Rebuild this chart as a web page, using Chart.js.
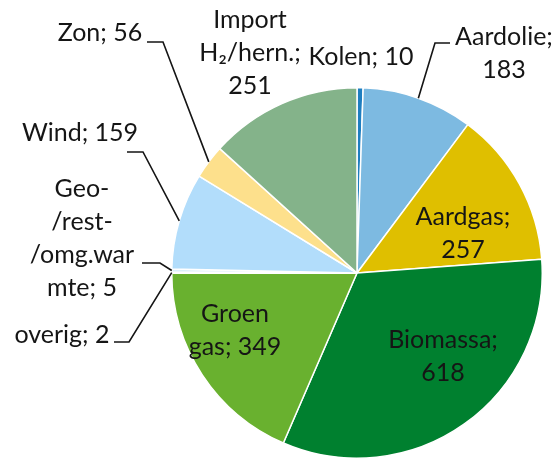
<!DOCTYPE html>
<html lang="nl">
<head>
  <meta charset="UTF-8" />
  <title>Energiemix</title>
  <script src="https://cdn.jsdelivr.net/npm/chart.js"></script>
  <style>
    body { margin: 0; background: #ffffff; }
    #wrap { width: 556px; height: 463px; }
  </style>
</head>
<body>
  <div id="wrap"><canvas id="pie" width="556" height="463"></canvas></div>
  <script>
    // data, clockwise from 12 o'clock
    const categories = ['Kolen', 'Aardolie', 'Aardgas', 'Biomassa', 'Groen gas', 'overig', 'Geo/rest/omg.warmte', 'Wind', 'Zon', 'Import H2/hern.'];
    const values = [10, 183, 257, 618, 349, 2, 5, 159, 56, 251];
    const colors = ['#1E7EC0', '#7DBAE1', '#DFBF00', '#00802F', '#69B12F', '#F0F0F0', '#DCEFFB', '#B2DDFB', '#FDE08C', '#84B38A'];

    // label text as shown on the chart (line breaks as in the original)
    const labelLines = [
      ['Kolen; 10'],
      ['Aardolie;', '183'],
      ['Aardgas;', '257'],
      ['Biomassa;', '618'],
      ['Groen', 'gas; 349'],
      ['overig; 2'],
      ['Geo-', '/rest-', '/omg.war', 'mte; 5'],
      ['Wind; 159'],
      ['Zon; 56'],
      ['Import', 'H\u2082/hern.;', '251']
    ];

    // label placement relative to the pie centre; leader = [end, elbow] relative to label centre
    const labelPlace = [
      { dx: 4, dy: -216 },
      { dx: 147, dy: -220, leader: [[-54, -10], [-69, -10]] },
      { dx: 106, dy: -40 },
      { dx: 86, dy: 83 },
      { dx: -122, dy: 57 },
      { dx: -295, dy: 62, leader: [[52, 7], [67, 7]] },
      { dx: -275, dy: -35, leader: [[60, 25], [78, 25]] },
      { dx: -277, dy: -140, leader: [[47, 19], [63, 19]] },
      { dx: -257, dy: -240, leader: [[47, 9], [63, 9]] },
      { dx: -107, dy: -220 }
    ];

    const lineHeight = 33;

    const pieLabels = {
      id: 'pieLabels',
      afterDatasetsDraw(chart) {
        const ctx = chart.ctx;
        const arcs = chart.getDatasetMeta(0).data;
        ctx.save();
        ctx.font = '25px Lato, "Open Sans", sans-serif';
        ctx.fillStyle = '#151515';
        ctx.textAlign = 'center';
        ctx.textBaseline = 'middle';
        arcs.forEach((arc, i) => {
          const p = labelPlace[i];
          const lx = arc.x + p.dx;
          const ly = arc.y + p.dy;
          const lines = labelLines[i];
          lines.forEach((t, k) => {
            ctx.fillText(t, lx, ly + (k - (lines.length - 1) / 2) * lineHeight);
          });
          if (p.leader) {
            const mid = (arc.startAngle + arc.endAngle) / 2;
            const ax = arc.x + arc.outerRadius * Math.cos(mid);
            const ay = arc.y + arc.outerRadius * Math.sin(mid);
            ctx.beginPath();
            ctx.strokeStyle = '#151515';
            ctx.lineWidth = 1.6;
            ctx.moveTo(lx + p.leader[0][0], ly + p.leader[0][1]);
            ctx.lineTo(lx + p.leader[1][0], ly + p.leader[1][1]);
            ctx.lineTo(ax, ay);
            ctx.stroke();
          }
        });
        ctx.restore();
      }
    };

    new Chart(document.getElementById('pie'), {
      type: 'pie',
      data: {
        labels: categories,
        datasets: [{
          data: values,
          backgroundColor: colors,
          borderColor: '#ffffff',
          borderWidth: 1.5
        }]
      },
      options: {
        responsive: false,
        animation: false,
        layout: { padding: { left: 171, right: 13, top: 87, bottom: 4 } },
        plugins: {
          legend: { display: false },
          tooltip: { enabled: false }
        }
      },
      plugins: [pieLabels]
    });
  </script>
</body>
</html>
